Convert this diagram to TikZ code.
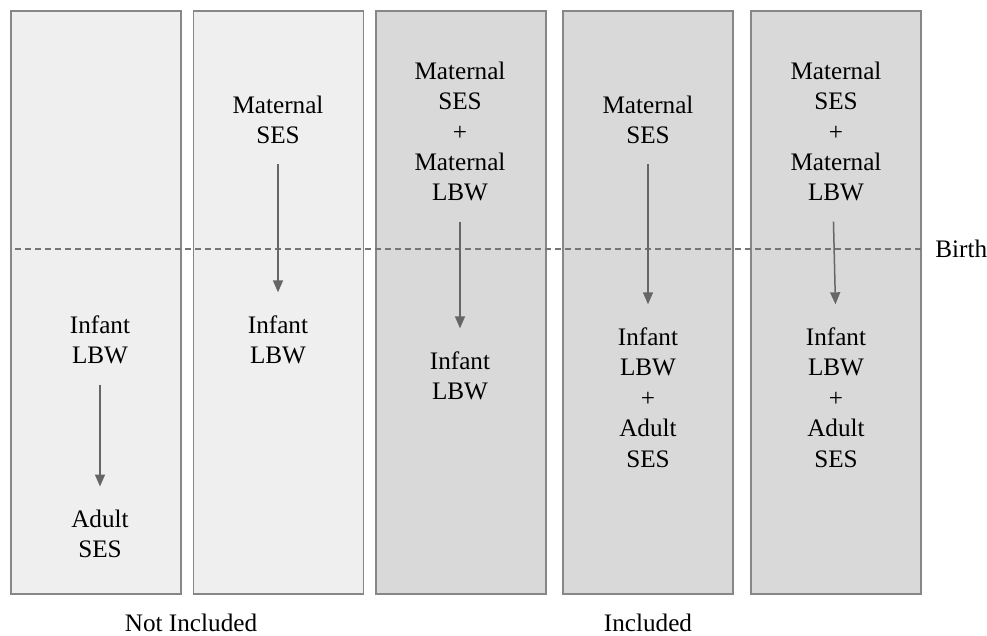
\documentclass[tikz,border=0pt]{standalone}
\usepackage{fontspec}
\setmainfont{Liberation Serif}
\usetikzlibrary{positioning}
\usetikzlibrary{arrows.meta}

\definecolor{panellight}{HTML}{EFEFEF}
\definecolor{paneldark}{HTML}{D9D9D9}
\definecolor{panelline}{HTML}{878787}
\definecolor{linkgray}{HTML}{666666}

\begin{document}
\begin{tikzpicture}[x=0.5pt, y=-0.5pt,
    panel/.style={draw=panelline, line width=0.75pt, minimum width=85pt, minimum height=291.5pt, inner sep=0pt},
    txt/.style={align=center, inner sep=0pt, font=\fontsize{12.6}{15.2}\selectfont},
    link/.style={draw=linkgray, line width=0.75pt, -{Triangle[length=6pt,width=5pt]}, shorten <=10pt, shorten >=11.5pt},
    birthline/.style={draw=linkgray!90, line width=0.6pt, dash pattern=on 3pt off 2pt}]
  \useasboundingbox (0,0) rectangle (987,636);

  % the five panels
  \foreach \i/\cx/\col in {1/96/panellight, 2/278.5/panellight, 3/461/paneldark, 4/648/paneldark, 5/836/paneldark} {
    \node[panel, fill=\col] (p\i) at (\cx,302.5) {};
  }

  % birth line
  \node[txt, anchor=west] (birth) at (935,249) {Birth};
  \draw[birthline] (15,249) -- (p5.east |- birth.west);

  % panel 1
  \node[txt] (i1) at (100,340) {Infant\\LBW};
  \node[txt] (a1) at (100,534) {Adult\\SES};
  \draw[link] (i1) -- (a1);

  % panel 2
  \node[txt] (m2) at (278,120) {Maternal\\SES};
  \node[txt] (i2) at (278,340) {Infant\\LBW};
  \draw[link] (m2) -- (i2);

  % panel 3
  \node[txt] (m3) at (460,131.5) {Maternal\\SES\\+\\Maternal\\LBW};
  \node[txt] (i3) at (460,376) {Infant\\LBW};
  \draw[link] (m3) -- (i3);

  % panel 4
  \node[txt] (m4) at (648,120) {Maternal\\SES};
  \node[txt] (i4) at (648,397.5) {Infant\\LBW\\+\\Adult\\SES};
  \draw[link] (m4) -- (i4);

  % panel 5
  \node[txt] (m5) at (836,131.5) {Maternal\\SES\\+\\Maternal\\LBW};
  \node[txt] (i5) at (836,397.5) {Infant\\LBW\\+\\Adult\\SES};
  \draw[link] ([xshift=-1.5pt]m5.south) -- (i5.north);

  % group labels
  \node[txt] (notinc) at (191,623) {Not Included};
  \node[txt] (inc) at (648,623) {Included};
\end{tikzpicture}
\end{document}
